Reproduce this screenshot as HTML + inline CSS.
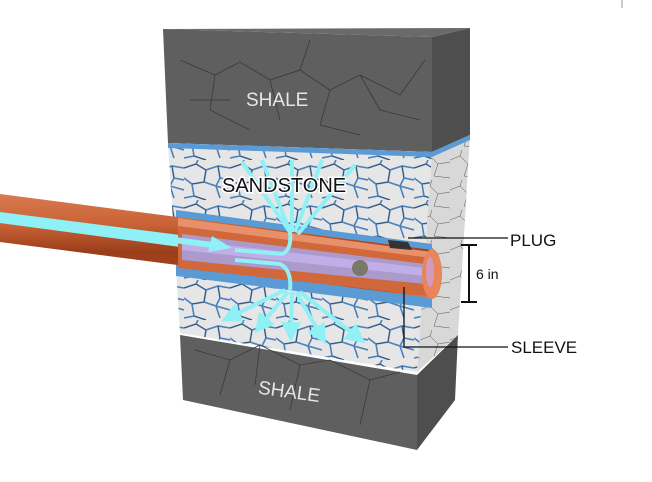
<!DOCTYPE html>
<html><head><meta charset="utf-8"><style>
html,body{margin:0;padding:0;background:#fff;}
svg{display:block;}
text{font-family:"Liberation Sans",Arial,sans-serif;}
</style></head><body>
<svg width="652" height="482" viewBox="0 0 652 482" xmlns="http://www.w3.org/2000/svg">
<defs>
<pattern id="cells" width="46" height="40" patternUnits="userSpaceOnUse">
<rect width="46" height="40" fill="#e6e6e6"/>
<path d="M0 8 L12 4 L22 10 L20 22 L8 24 L0 18 M22 10 L34 6 L46 8 M20 22 L32 26 L36 38 M34 6 L36 18 L32 26 M36 18 L46 20 M8 24 L10 36 L22 40 M10 36 L0 38 M12 4 L14 0 M32 26 L46 30" fill="none" stroke="#4a80bb" stroke-width="1.6"/>
<path d="M0 8 L12 4 L22 10 L20 22 L8 24 M34 6 L36 18 M10 36 L22 40" fill="none" stroke="#333" stroke-width="0.5"/>
</pattern>
<pattern id="cellsR" width="30" height="30" patternUnits="userSpaceOnUse">
<rect width="30" height="30" fill="#d8d8d8"/>
<path d="M0 10 L10 6 L18 14 L14 26 M18 14 L30 12 M10 6 L12 0 M14 26 L30 28" fill="none" stroke="#555" stroke-width="0.5"/>
</pattern>
<linearGradient id="pipe" x1="0" y1="0" x2="0" y2="1">
<stop offset="0" stop-color="#d87a50"/><stop offset="0.3" stop-color="#c96236"/>
<stop offset="0.55" stop-color="#9a3e1a"/><stop offset="0.9" stop-color="#a94a24"/><stop offset="1" stop-color="#e08058"/>
</linearGradient>
<marker id="ah" markerWidth="5" markerHeight="5" refX="2" refY="2.5" orient="auto"><path d="M0 0 L5 2.5 L0 5z" fill="#8ff0f5"/></marker>
</defs>
<line x1="622" y1="0" x2="622" y2="8" stroke="#999"/>
<!-- top shale -->
<polygon points="163,29 432,37 432,152 168,143" fill="#5f5f5f"/>
<polygon points="432,37 470,28 470,135 432,152" fill="#4e4e4e"/>
<polygon points="163,29 470,28 432,37" fill="#6a6a6a"/>
<path d="M180 60 L215 75 L240 62 L270 80 L300 70 L330 90 L360 75 L400 95 M215 75 L210 110 L250 130 M270 80 L280 120 M330 90 L320 125 L360 135 M360 75 L380 110 L420 120 M190 100 L230 100 M300 70 L310 40 M400 95 L425 60" fill="none" stroke="#3a3a3a" stroke-width="0.8"/>
<text x="246" y="106" font-size="19" fill="#e6e6e6">SHALE</text>
<!-- sandstone -->
<polygon points="168,143 432,152 417,372 180,333" fill="url(#cells)"/>
<polygon points="432,152 470,135 458,335 417,372" fill="url(#cellsR)"/>
<polygon points="168,143 432,152 470,135 470,140 432,157 168,148" fill="#5b9bd5"/>
<!-- hole -->
<polygon points="176,210 432,244 432,308 176,276" fill="#5b9bd5"/>
<!-- pipe -->
<polygon points="0,194 432,250 432,298 0,242" fill="url(#pipe)"/>
<polygon points="0,212 180,235 180,247 0,223" fill="#8ff0f5"/>
<polygon points="178,218 432,252 432,296 178,268" fill="#d0683c"/>
<polygon points="178,218 432,252 432,258 178,226" fill="#e8906a"/>
<polygon points="182,234 425,264 425,284 182,260" fill="#a7a0dc" opacity="0.9"/>
<polygon points="182,240 425,268 425,276 182,250" fill="#c6b4ee" opacity="0.8"/>
<ellipse cx="432" cy="274" rx="10" ry="25" fill="#e8855a"/>
<ellipse cx="430" cy="272" rx="4" ry="15" fill="#c9a0d8" opacity="0.8"/>
<circle cx="360" cy="268" r="8" fill="#7a7868"/>
<path d="M388 240 L408 242 L412 250 L390 248z" fill="#333"/>
<!-- flow -->
<path d="M0 217 L220 246" stroke="#8ff0f5" stroke-width="6"/>
<polygon points="212,236 232,248 208,252" fill="#8ff0f5"/>
<g stroke="#8ff0f5" stroke-width="4" fill="none">
<path d="M235 250 L282 254 Q292 250 290 232"/>
<path d="M235 260 L280 264 Q292 270 290 290"/>
<path d="M290 232 L242 162"/><path d="M290 232 L262 160"/><path d="M292 232 L292 160"/>
<path d="M295 232 L322 160"/><path d="M298 234 L355 165"/>
</g>
<g stroke="#8ff0f5" stroke-width="4" fill="none" marker-end="url(#ah)">
<path d="M285 290 L232 316"/><path d="M288 292 L262 324"/><path d="M292 292 L291 330"/>
<path d="M296 292 L320 334"/><path d="M300 292 L356 336"/>
</g>
<text x="222" y="192" font-size="20" fill="#111" stroke="#fff" stroke-width="3" paint-order="stroke">SANDSTONE</text>
<!-- bottom shale -->
<polygon points="180,335 417,375 417,450 183,400" fill="#5f5f5f"/>
<polygon points="417,375 458,335 455,400 417,450" fill="#4e4e4e"/>
<path d="M195 350 L230 360 L260 345 L300 365 L330 360 L370 380 L400 372 M230 360 L220 395 M300 365 L290 410 M370 380 L360 425 M260 345 L255 385" fill="none" stroke="#3a3a3a" stroke-width="0.8"/>
<text x="258" y="398" font-size="19" fill="#e6e6e6" transform="rotate(8 290 392)">SHALE</text>
<!-- labels -->
<g stroke="#111" stroke-width="1.3" fill="none">
<path d="M408 238 L508 238"/>
<path d="M404 287 L404 347 L508 347"/>
<path d="M469 245 L469 302 M461 245 L477 245 M461 302 L477 302" stroke-width="2"/>
</g>
<text x="510" y="246" font-size="17" fill="#111">PLUG</text>
<text x="476" y="279" font-size="14" fill="#111">6 in</text>
<text x="511" y="353" font-size="17" fill="#111">SLEEVE</text>
</svg>
</body></html>
